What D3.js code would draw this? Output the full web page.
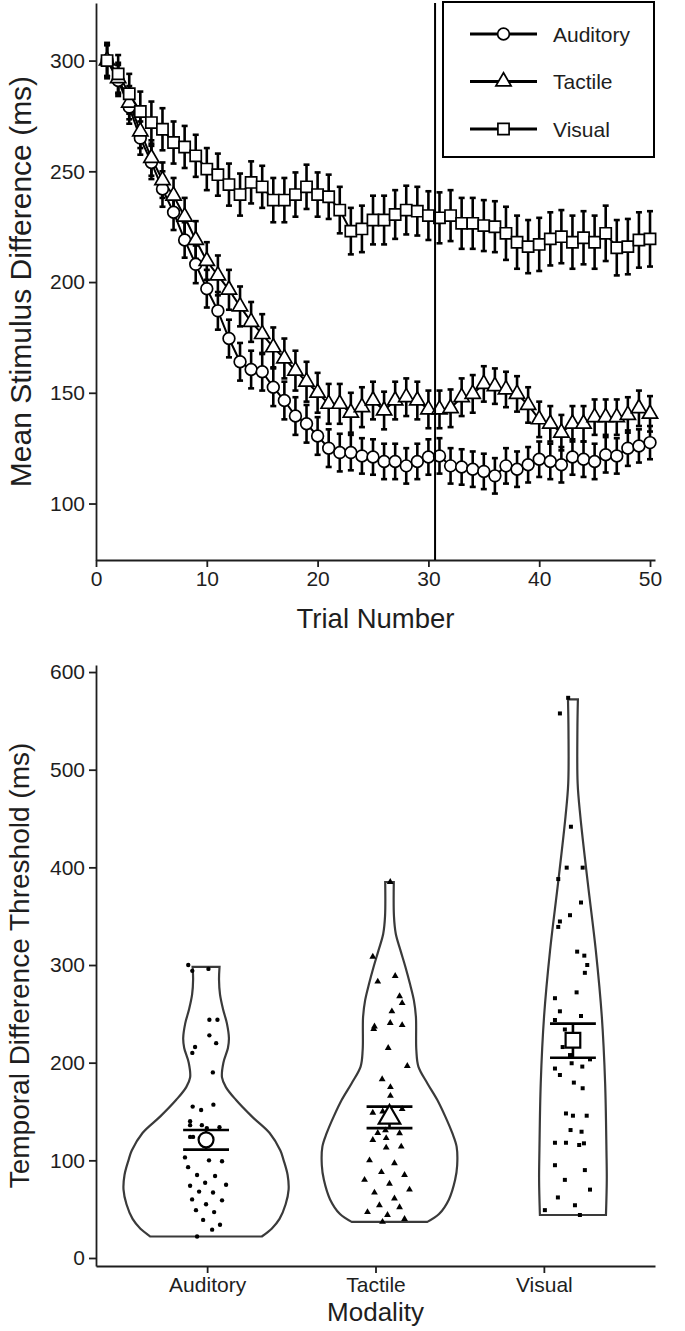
<!DOCTYPE html>
<html><head><meta charset="utf-8">
<script src="https://cdn.jsdelivr.net/npm/d3@7"></script>
<style>
body{margin:0;background:#fff}
svg{display:block}
text{font-family:"Liberation Sans",Arial,Helvetica,sans-serif}
</style>
</head><body>
<svg id="c" width="685" height="1331"></svg>
<script>
// ---------------- DATA ----------------
const trials = [1,2,3,4,5,6,7,8,9,10,11,12,13,14,15,16,17,18,19,20,21,22,23,24,25,26,27,28,29,30,31,32,33,34,35,36,37,38,39,40,41,42,43,44,45,46,47,48,49,50];
const trialTicks = [0,10,20,30,40,50];
const topYTicks = [100,150,200,250,300];
const refLineTrial = 30.6;

const auditoryMean = [300,291,279,265,254,242,231.5,219,208,197,187,174.5,164,160.5,159.5,152.5,146.5,139.5,136,130.5,125,123,123,121.5,121,119,119,117,119,121,121.5,117,116.5,115.5,114.5,112.5,117,115.5,117.5,120,119,117.5,121,120,119,122,121.5,125,126,127.5];
const auditoryErr  = [7,7,7.5,7.5,7.5,8,8,8,8.5,8.5,8.5,8.5,8.5,8.5,8.5,8.5,8.5,8.5,8.5,8.5,8.5,8.5,8,8,8,8,8,8,8,8,8,8,8,8,8,8,8,8,8,8,8,8,8,8,8,8,8,8,7.5,7.5];
const tactileMean  = [300,292,281,268,256,246,239,229.5,219,209.5,203,196.5,189,182,176.5,170.5,165.5,160,155,150,145,145,141,143.5,146.5,142,146.5,148,146.5,142.5,142.5,143,148,149.5,154,153,151.5,149.5,144.5,138,136,132,136,136,139,139,139,140,143,140.5];
const tactileErr   = [7,7,7.5,7.5,8,8,8,8.5,8.5,8.5,9,9,9,9,9,9,9,9,9,9,9,9,9,9,8.5,8.5,8.5,8.5,8.5,8.5,8.5,8.5,8.5,8.5,8,8,8,8,8,8,8,8,8,8,8,8,8,8,8,8];
const visualMean   = [300,294,285,277,272,269,263,261,257,251,248.5,244,239.5,245,243,237,237,239.5,243,239.5,238.5,232.5,223,224,228,228,230.5,232.5,232,230,229,230,226.5,226.5,225.5,225,222,218,216,217,219.5,220.5,218,220,218,222,215.5,216,219,219.5];
const visualErr    = [8,8.5,9,9,9.5,9.5,9.5,9.5,9.5,9.5,9.5,9.5,9.5,9.5,9.5,10,10,10,10,10,10,10.5,10.5,10.5,11,11,11,11,11,11,11.5,11.5,11.5,11.5,11.5,11.5,12,12,12,12,12,12,12,12,12,12.5,12.5,12.5,12.5,12.5];

const modalities = ["Auditory","Tactile","Visual"];
const bottomYTicks = [0,100,200,300,400,500,600];

// violin density profiles: [threshold value, relative density]
const auditoryViolin = [[22,0.675],[30,0.795],[40,0.89],[55,0.964],[70,1.0],[85,0.988],[100,0.94],[110,0.90],[128,0.77],[145,0.554],[162,0.361],[175,0.24],[185,0.193],[200,0.21],[215,0.265],[225,0.277],[240,0.253],[255,0.205],[270,0.169],[285,0.157],[298,0.163]];
const tactileViolin  = [[37,0.458],[45,0.60],[60,0.72],[80,0.795],[95,0.82],[114,0.813],[128,0.76],[145,0.675],[162,0.578],[179,0.458],[196,0.35],[213,0.325],[247,0.32],[264,0.295],[281,0.247],[298,0.193],[315,0.133],[332,0.076],[350,0.054],[385,0.052]];
const visualViolin   = [[44,0.40],[80,0.41],[110,0.406],[179,0.39],[247,0.35],[315,0.277],[384,0.18],[452,0.09],[486,0.057],[540,0.054],[572,0.06]];

// individual thresholds: [jitter (category units), threshold ms]
const auditoryPoints = [[-0.097,300],[-0.075,294],[0.013,296],[0.018,244],[0.062,244],[0.018,228],[0.055,220],[-0.06,216],[-0.075,210],[0.037,190],[-0.073,155],[-0.027,151.5],[0.04,157],[-0.087,140],[-0.087,136],[-0.023,136],[0.073,134],[0.004,133],[-0.087,124],[-0.071,124],[-0.115,103],[0.016,100],[-0.098,93],[0.087,99],[-0.049,85],[0.049,84],[-0.005,77],[0.109,75],[-0.087,74],[-0.038,68],[0.038,67],[-0.076,60],[0.087,59],[0,55],[-0.055,49],[0.044,47],[-0.016,39],[0.076,34],[0.033,29],[-0.049,22]];
const tactilePoints  = [[-0.091,308.5],[0.004,385],[-0.064,283],[0.031,288.7],[0.055,268],[0.069,261],[0.013,252.6],[-0.082,237],[-0.086,234.5],[0.004,240.6],[0.069,238.5],[-0.007,215],[0.097,196.6],[-0.04,183],[0.005,175],[0.005,166],[-0.091,148.8],[-0.037,150],[0.069,152.5],[-0.064,128],[-0.022,130.7],[0.055,127.7],[-0.091,120.8],[-0.018,122.8],[-0.018,113],[0.064,114],[-0.109,100],[0.027,97],[-0.044,88],[0.082,85],[-0.136,80],[0,76],[0.109,70],[-0.082,67],[0.027,61],[-0.055,54],[0.055,52],[-0.12,47],[-0.011,44],[0.082,40],[-0.038,37]];
const visualPoints   = [[-0.026,573.6],[-0.071,557.6],[-0.011,441.6],[-0.034,399.7],[0.053,399.7],[-0.08,388],[0.044,364],[-0.016,351],[-0.071,344.6],[-0.08,339],[0.023,313.7],[0.062,309.6],[0.078,300],[0.065,292],[0.02,272],[-0.098,266],[-0.071,252.6],[0.044,247.8],[-0.098,243.7],[-0.044,234],[-0.056,216],[-0.016,207.8],[0.093,203.4],[-0.007,199.4],[0.051,196],[-0.098,194],[-0.071,187.4],[0.005,179.6],[0.053,173.8],[-0.038,148],[0,145.7],[0.075,145.7],[-0.013,131],[0.047,129.3],[-0.098,118],[-0.038,118],[0.034,115.7],[0.06,117.4],[-0.098,95],[0.065,90],[-0.044,80],[0.093,70],[-0.082,62],[0.011,54],[-0.153,49],[0.038,44]];

const groupMean   = [121,144,223];
const groupSELow  = [111,133,205];
const groupSEHigh = [131,155,240];

// ---------------- DRAW ----------------
(function(){
const INK = "#1e1e1e";
const svg = d3.select("#c");

function styleAxis(g, fs){
  g.select(".domain").attr("stroke", INK).attr("stroke-width", 1.8);
  g.selectAll(".tick line").attr("stroke", INK).attr("stroke-width", 1.8);
  g.selectAll(".tick text").attr("font-size", fs).attr("fill", INK).attr("font-family", '"Liberation Sans",Arial,sans-serif');
}

// ===== Top panel =====
const xT = d3.scaleLinear().domain([0, 50.45]).range([96, 655]);
const yT = d3.scaleLinear().domain([74.5, 326]).range([560, 3]);
const gTop = svg.append("g");

const axB = gTop.append("g").attr("transform","translate(0,560)")
  .call(d3.axisBottom(xT).tickValues(trialTicks).tickSize(7).tickSizeOuter(0).tickPadding(4));
styleAxis(axB, 21);
const axL = gTop.append("g").attr("transform","translate(96,0)")
  .call(d3.axisLeft(yT).tickValues(topYTicks).tickSize(7).tickSizeOuter(0).tickPadding(4));
styleAxis(axL, 21);

gTop.append("text").attr("x", (96+655)/2).attr("y", 628).attr("text-anchor","middle")
  .attr("font-size", 27.5).attr("fill", INK).text("Trial Number");
gTop.append("text").attr("transform", `translate(31,${(3+560)/2}) rotate(-90)`).attr("text-anchor","middle")
  .attr("font-size", 30).attr("fill", INK).text("Mean Stimulus Difference (ms)");

const series = [
  {name:"Auditory", mean:auditoryMean, err:auditoryErr, sym:d3.symbolCircle, size:108},
  {name:"Tactile",  mean:tactileMean,  err:tactileErr,  sym:d3.symbolTriangle, size:100},
  {name:"Visual",   mean:visualMean,   err:visualErr,   sym:d3.symbolSquare, size:125}
];

const line = d3.line().x((d,i)=>xT(trials[i])).y(d=>yT(d));
series.forEach(s=>{
  gTop.append("path").attr("d", line(s.mean)).attr("fill","none").attr("stroke","#000").attr("stroke-width",2);
});
series.forEach(s=>{
  const g = gTop.append("g").attr("stroke","#000").attr("stroke-width",2.6);
  s.mean.forEach((m,i)=>{
    const x = xT(trials[i]), y0 = yT(m - s.err[i]), y1 = yT(m + s.err[i]);
    g.append("line").attr("x1",x).attr("x2",x).attr("y1",y0).attr("y2",y1);
    g.append("line").attr("x1",x-3).attr("x2",x+3).attr("y1",y0).attr("y2",y0);
    g.append("line").attr("x1",x-3).attr("x2",x+3).attr("y1",y1).attr("y2",y1);
  });
});
series.forEach(s=>{
  gTop.append("g").selectAll("path").data(s.mean).join("path")
    .attr("transform",(d,i)=>`translate(${xT(trials[i])},${yT(d)})`)
    .attr("d", d3.symbol().type(s.sym).size(s.size))
    .attr("fill","#fff").attr("stroke","#000").attr("stroke-width",1.7);
});

gTop.append("line").attr("x1",xT(refLineTrial)).attr("x2",xT(refLineTrial))
  .attr("y1",yT.range()[1]).attr("y2",yT.range()[0]).attr("stroke","#000").attr("stroke-width",2);

const leg = gTop.append("g");
leg.append("rect").attr("x",443).attr("y",2).attr("width",211).attr("height",155)
  .attr("fill","#fff").attr("stroke","#000").attr("stroke-width",2);
series.forEach((s,i)=>{
  const cy = 34 + i*47.5;
  leg.append("line").attr("x1",470).attr("x2",537).attr("y1",cy).attr("y2",cy).attr("stroke","#000").attr("stroke-width",3);
  leg.append("path").attr("transform",`translate(503.5,${cy})`).attr("d", d3.symbol().type(s.sym).size(s.size))
    .attr("fill","#fff").attr("stroke","#000").attr("stroke-width",1.7);
  leg.append("text").attr("x",553).attr("y",cy+7.5).attr("font-size",21).attr("fill",INK).text(s.name);
});

// ===== Bottom panel =====
const yB = d3.scaleLinear().domain([-8.2, 607.2]).range([1266, 665]);
const xB = d3.scalePoint().domain(modalities).range([96, 655]).padding(0.66);
const xG = d3.scalePoint().domain(modalities).range([96, 683]).padding(0.6);
const stepG = xG.step();
const gBot = svg.append("g");

const violins = [auditoryViolin, tactileViolin, visualViolin];
const points = [auditoryPoints, tactilePoints, visualPoints];
const pointSym = [d3.symbolCircle, d3.symbolTriangle, d3.symbolSquare];
const pointSize = [15, 20, 16];
const meanSym = [d3.symbolCircle, d3.symbolTriangle, d3.symbolSquare];
const meanSize = [175, 200, 215];
const halfW = 0.45 * stepG;

modalities.forEach((m,k)=>{
  const cx = xG(m);
  const area = d3.area()
    .y(d=>yB(d[0]))
    .x0(d=>cx - d[1]*halfW)
    .x1(d=>cx + d[1]*halfW)
    .curve(d3.curveCatmullRom.alpha(0.5));
  gBot.append("path").attr("d", area(violins[k]))
    .attr("fill","#fff").attr("stroke","#3a3a3a").attr("stroke-width",2.2);
});
modalities.forEach((m,k)=>{
  const cx = xG(m);
  gBot.append("g").selectAll("path").data(points[k]).join("path")
    .attr("transform",d=>`translate(${cx + d[0]*stepG},${yB(d[1])})`)
    .attr("d", d3.symbol().type(pointSym[k]).size(pointSize[k]))
    .attr("fill","#000");
});
modalities.forEach((m,k)=>{
  const cx = xG(m), hw = 0.125*stepG;
  const g = gBot.append("g").attr("stroke","#000").attr("stroke-width",2.6);
  g.append("line").attr("x1",cx).attr("x2",cx).attr("y1",yB(groupSELow[k])).attr("y2",yB(groupSEHigh[k]));
  g.append("line").attr("x1",cx-hw).attr("x2",cx+hw).attr("y1",yB(groupSELow[k])).attr("y2",yB(groupSELow[k]));
  g.append("line").attr("x1",cx-hw).attr("x2",cx+hw).attr("y1",yB(groupSEHigh[k])).attr("y2",yB(groupSEHigh[k]));
  gBot.append("path").attr("transform",`translate(${cx},${yB(groupMean[k])})`)
    .attr("d", d3.symbol().type(meanSym[k]).size(meanSize[k]))
    .attr("fill","#fff").attr("stroke","#000").attr("stroke-width",2.2);
});

const axB2 = gBot.append("g").attr("transform","translate(0,1266)")
  .call(d3.axisBottom(xB).tickSize(7).tickSizeOuter(0).tickPadding(4));
styleAxis(axB2, 21);
const axL2 = gBot.append("g").attr("transform","translate(96,0)")
  .call(d3.axisLeft(yB).tickValues(bottomYTicks).tickSize(7).tickSizeOuter(0).tickPadding(4));
styleAxis(axL2, 21);

gBot.append("text").attr("x", (96+655)/2).attr("y", 1321).attr("text-anchor","middle")
  .attr("font-size", 26).attr("fill", INK).text("Modality");
gBot.append("text").attr("transform", `translate(29,${(665+1266)/2}) rotate(-90)`).attr("text-anchor","middle")
  .attr("font-size", 28).attr("fill", INK).text("Temporal Difference Threshold (ms)");
})();
</script>
</body></html>
